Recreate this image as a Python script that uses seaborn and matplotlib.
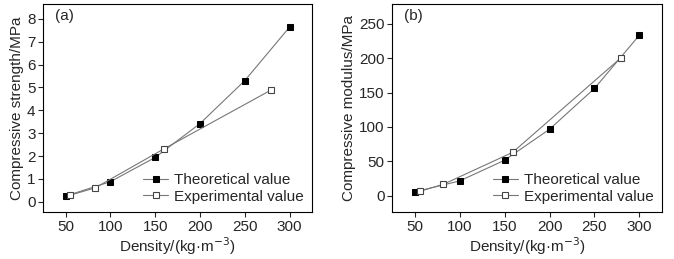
import pandas as pd
import matplotlib
matplotlib.use("Agg")
import matplotlib.pyplot as plt
import seaborn as sns

# theoretical values
theo_density = [50, 100, 150, 200, 250, 300]
theo_strength = [0.25, 0.88, 1.94, 3.42, 5.30, 7.64]
theo_modulus = [5.4, 21.4, 51.5, 96.6, 156, 233.5]

# experimental values
exp_density_a = [55, 83, 160, 279]
exp_strength = [0.29, 0.61, 2.32, 4.88]
exp_density_b = [56, 82, 159, 279]
exp_modulus = [6.4, 16.6, 63, 200]

sns.set_style("ticks")
plt.rcParams["font.family"] = ["Liberation Sans", "DejaVu Sans"]
plt.rcParams["font.size"] = 11
plt.rcParams["xtick.direction"] = "out"
plt.rcParams["ytick.direction"] = "out"

fig = plt.figure(figsize=(6.74, 2.59), dpi=100)
ax1 = fig.add_axes([0.064, 0.181, 0.399, 0.804])
ax2 = fig.add_axes([0.582, 0.181, 0.400, 0.804])

panels = [
    (ax1, theo_strength, exp_density_a, exp_strength, "Compressive strength/MPa",
     (25, 325), (-0.45, 8.65), range(0, 9), "(a)"),
    (ax2, theo_modulus, exp_density_b, exp_modulus, "Compressive modulus/MPa",
     (25, 325), (-24, 279), range(0, 251, 50), "(b)"),
]

for ax, theo_y, exp_x, exp_y, ylabel, xlim, ylim, yticks, tag in panels:
    sns.lineplot(x=theo_density, y=theo_y, ax=ax, color="#777777", linewidth=0.8,
                 marker="s", markersize=5, markerfacecolor="black",
                 markeredgecolor="black", label="Theoretical value")
    sns.lineplot(x=exp_x, y=exp_y, ax=ax, color="#777777", linewidth=0.8,
                 marker="s", markersize=5, markerfacecolor="white",
                 markeredgecolor="#444444", markeredgewidth=0.8,
                 label="Experimental value")
    ax.set_xlim(*xlim)
    ax.set_ylim(*ylim)
    ax.set_xticks([50, 100, 150, 200, 250, 300])
    ax.set_yticks(list(yticks))
    ax.set_xlabel("Density/(kg·m$^{-3}$)", fontsize=11, labelpad=1)
    ax.set_ylabel(ylabel, fontsize=11, labelpad=2)
    ax.tick_params(labelsize=11, length=3.5, width=0.8, pad=2)
    for s in ax.spines.values():
        s.set_color("black")
        s.set_linewidth(0.8)
    ax.text(0.045, 0.975, tag, transform=ax.transAxes, fontsize=11, va="top")
    ax.legend(loc="lower right", frameon=False, fontsize=11, handlelength=1.6,
              handletextpad=0.4, labelspacing=0.15, borderaxespad=0.15)

fig.savefig("out.png", dpi=100)
